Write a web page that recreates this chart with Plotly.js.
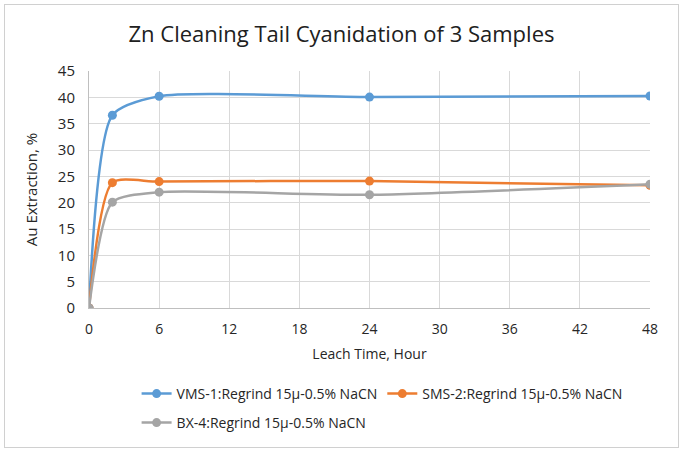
<!DOCTYPE html>
<html>
<head>
<meta charset="utf-8">
<script src="https://cdn.plot.ly/plotly-3.0.1.min.js"></script>
<style>
  body { margin: 0; background: #fff; }
  #wrap { position: relative; width: 683px; height: 452px; }
  #frame { position: absolute; left: 4px; top: 4px; right: 4px; bottom: 4px;
           border: 1px solid #d0d0d0; pointer-events: none; }
</style>
</head>
<body>
<div id="wrap">
  <div id="chart" style="width:683px;height:452px;"></div>
  <div id="frame"></div>
</div>
<script>
const hours = [0, 2, 6, 24, 48];
const vms1 = [0, 36.6, 40.2, 40.05, 40.25];
const sms2 = [0, 23.8, 24.0, 24.1, 23.3];
const bx4 = [0, 20.1, 22.0, 21.5, 23.5];
const seriesNames = [
    'VMS-1:Regrind 15\u00b5-0.5% NaCN',
    'SMS-2:Regrind 15\u00b5-0.5% NaCN',
    'BX-4:Regrind 15\u00b5-0.5% NaCN'
];
const xTicks = [0, 6, 12, 18, 24, 30, 36, 42, 48];

const COLORS = ['#5b9bd5', '#ed7d31', '#a5a5a5'];
const FONT = 'Open Sans, Liberation Sans, sans-serif';
const TXT = '#262626';

// legend rows: first two series on row 1, the third on row 2
function series(y, i, leg) {
    return {
        x: hours,
        y: y,
        name: seriesNames[i],
        legend: leg,
        type: 'scatter',
        mode: 'lines+markers',
        line: { color: COLORS[i], width: 2.5, shape: 'spline', smoothing: 0.65 },
        marker: { color: COLORS[i], size: 9 }
    };
}

const traces = [series(vms1, 0, 'legend'), series(sms2, 1, 'legend'), series(bx4, 2, 'legend2')];

function legendRow(y) {
    return {
        orientation: 'h',
        xref: 'container', yref: 'container',
        x: 0.2, xanchor: 'left',
        y: y, yanchor: 'middle',
        font: { size: 14, color: TXT },
        tracegroupgap: 0
    };
}

const layout = {
    width: 683,
    height: 452,
    margin: { l: 89, r: 33, t: 71, b: 144 },
    paper_bgcolor: '#ffffff',
    plot_bgcolor: '#ffffff',
    font: { family: FONT, color: TXT },
    title: {
        text: 'Zn Cleaning Tail Cyanidation of 3 Samples',
        font: { size: 22, color: '#202020' },
        x: 0.5, xref: 'container', y: 0.925, yanchor: 'middle'
    },
    xaxis: {
        range: [0, 48],
        tickvals: xTicks,
        ticks: '',
        ticklabelstandoff: 8,
        showgrid: true,
        gridcolor: '#d9d9d9',
        gridwidth: 1,
        zeroline: false,
        showline: true,
        linecolor: '#bfbfbf',
        linewidth: 1,
        tickfont: { size: 14, color: TXT },
        title: { text: 'Leach Time, Hour', font: { size: 14, color: TXT }, standoff: 12 }
    },
    yaxis: {
        range: [0, 45],
        dtick: 5,
        ticks: '',
        ticklabelstandoff: 10,
        showgrid: true,
        gridcolor: '#d9d9d9',
        gridwidth: 1,
        zeroline: false,
        showline: true,
        linecolor: '#bfbfbf',
        linewidth: 1,
        tickfont: { size: 15, color: TXT },
        title: { text: 'Au Extraction, %', font: { size: 15, color: TXT }, standoff: 16 }
    },
    showlegend: true,
    legend: legendRow(1 - 394 / 452),
    legend2: legendRow(1 - 423 / 452)
};

Plotly.newPlot('chart', traces, layout, { staticPlot: true });
</script>
</body>
</html>
